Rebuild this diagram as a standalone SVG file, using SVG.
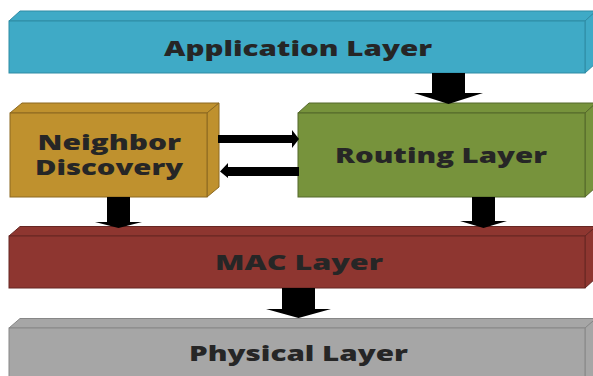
<svg xmlns="http://www.w3.org/2000/svg" width="593" height="376" viewBox="0 0 593 376">
<style>
.lbl{font-family:"Open Sans",Lato,"DejaVu Sans",sans-serif;font-weight:800;font-size:21px;fill:#262626}
.app{fill:#3FAAC6;stroke:#2F8BA4;stroke-width:1}
.nd{fill:#BF912E;stroke:#8C6920;stroke-width:1}
.rt{fill:#77933C;stroke:#55692A;stroke-width:1}
.mac{fill:#8E3630;stroke:#662622;stroke-width:1}
.phy{fill:#A6A6A6;stroke:#878787;stroke-width:1}
.arr{fill:#000}
</style>
<g id="application">
<polygon class="app" points="9,21 20,11 596,11 585,21"/>
<polygon class="app" points="585,21 596,11 596,63 585,73"/>
<rect class="app" x="9" y="21" width="576" height="52"/>
<text class="lbl" x="164" y="55.5" textLength="268" lengthAdjust="spacingAndGlyphs">Application Layer</text>
</g>
<g id="neighbor">
<polygon class="nd" points="10,113 22,103 219,103 207,113"/>
<polygon class="nd" points="207,113 219,103 219,187 207,197"/>
<rect class="nd" x="10" y="113" width="197" height="84"/>
<text class="lbl" x="37.5" y="150" textLength="143.5" lengthAdjust="spacingAndGlyphs">Neighbor</text>
<text class="lbl" x="35" y="175" textLength="148" lengthAdjust="spacingAndGlyphs">Discovery</text>
</g>
<g id="routing">
<polygon class="rt" points="298,113 309,103 596,103 585,113"/>
<polygon class="rt" points="585,113 596,103 596,187 585,197"/>
<rect class="rt" x="298" y="113" width="287" height="84"/>
<text class="lbl" x="335" y="163" textLength="212" lengthAdjust="spacingAndGlyphs">Routing Layer</text>
</g>
<g id="mac">
<polygon class="mac" points="9,236 20,226.5 596,226.5 585,236"/>
<polygon class="mac" points="585,236 596,226.5 596,278 585,288"/>
<rect class="mac" x="9" y="236" width="576" height="52"/>
<text class="lbl" x="215" y="270" textLength="168" lengthAdjust="spacingAndGlyphs">MAC Layer</text>
</g>
<g id="physical">
<polygon class="phy" points="9,328 20,318.5 596,318.5 585,328"/>
<polygon class="phy" points="585,328 596,318.5 596,380 585,390"/>
<rect class="phy" x="9" y="328" width="576" height="60"/>
<text class="lbl" x="189" y="361" textLength="219" lengthAdjust="spacingAndGlyphs">Physical Layer</text>
</g>
<g id="connectors">
<polygon class="arr" points="432,73 465,73 465,93 483,93 448.5,104 414,93 432,93"/>
<polygon class="arr" points="107,197 130,197 130,222 142,222 118.5,228 95,222 107,222"/>
<polygon class="arr" points="472,197 495,197 495,221 507,221 483.5,228 460,221 472,221"/>
<polygon class="arr" points="282,288 315,288 315,309 331,309 298.5,318 266,309 282,309"/>
<polygon class="arr" points="218,135 292,135 292,130 299,139 292,148 292,143 218,143"/>
<polygon class="arr" points="299,167 228,167 228,163 220,171.5 228,178 228,176 299,176"/>
</g>
</svg>
